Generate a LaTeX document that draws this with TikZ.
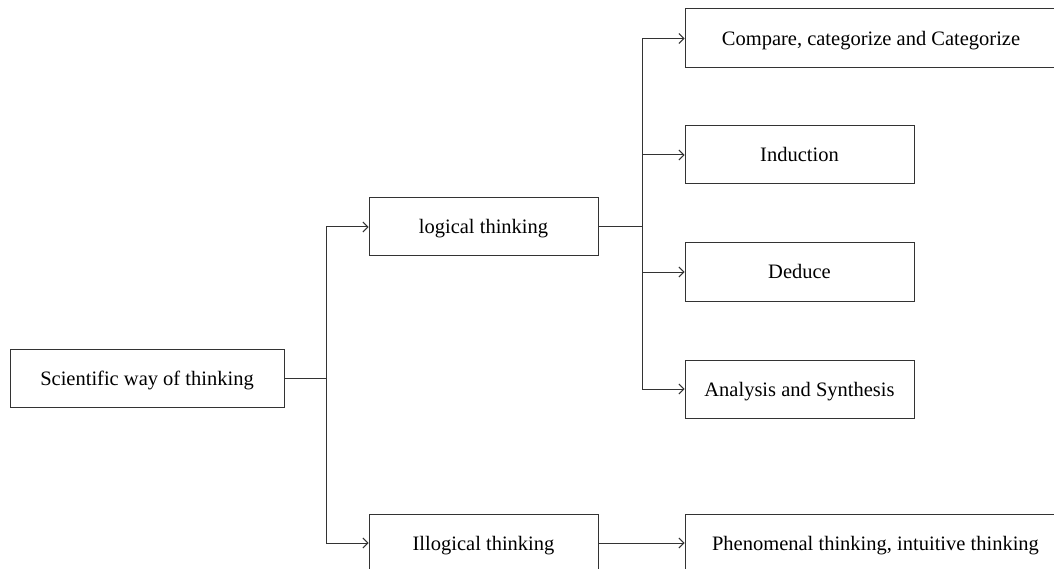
\documentclass[tikz,border=0pt]{standalone}
\usepackage{fontspec}
\setmainfont{Liberation Serif}
\usetikzlibrary{arrows.meta}
\begin{document}
\begin{tikzpicture}[x=1pt,y=-1pt,
  box/.style={draw=black!80,line width=1pt,inner sep=0pt,minimum height=58pt,text height=16pt,text depth=2pt,font=\fontsize{20.5}{24}\selectfont},
  conn/.style={draw=black!80,line width=1pt},
  arr/.style={conn,-{Straight Barb[length=5pt,width=10pt,line width=0.9pt]}}]
\clip (0,0) rectangle (1054,569);
\fill[white] (0,0) rectangle (1054,569);
\node[box,minimum width=274pt] (sci) at (147,378) {Scientific way of thinking};
\node[box,minimum width=229pt] (log) at (483.5,227) {logical thinking};
\node[box,minimum width=229pt] (ill) at (483.5,543) {Illogical thinking};
\node[box,minimum width=372pt,minimum height=59pt] (cmp) at (871,38.5) {Compare, categorize and Categorize};
\node[box,minimum width=229pt] (ind) at (799.5,155) {Induction};
\node[box,minimum width=229pt] (ded) at (799.5,272) {Deduce};
\node[box,minimum width=229pt] (ana) at (799.5,389) {Analysis and Synthesis};
\node[box,minimum width=381pt] (phe) at (875.5,543) {Phenomenal thinking, intuitive thinking};
\coordinate (f1) at (326,378);
\coordinate (f2) at (642,227);
\draw[conn] (sci.east) -- (f1);
\draw[arr] (f1) |- (log.west);
\draw[arr] (f1) |- (ill.west);
\draw[conn] (log.east) -- (f2);
\draw[arr] (f2) |- (cmp.west);
\draw[arr] (f2) |- (ind.west);
\draw[arr] (f2) |- (ded.west);
\draw[arr] (f2) |- (ana.west);
\draw[arr] (ill.east) -- (phe.west);
\end{tikzpicture}
\end{document}
